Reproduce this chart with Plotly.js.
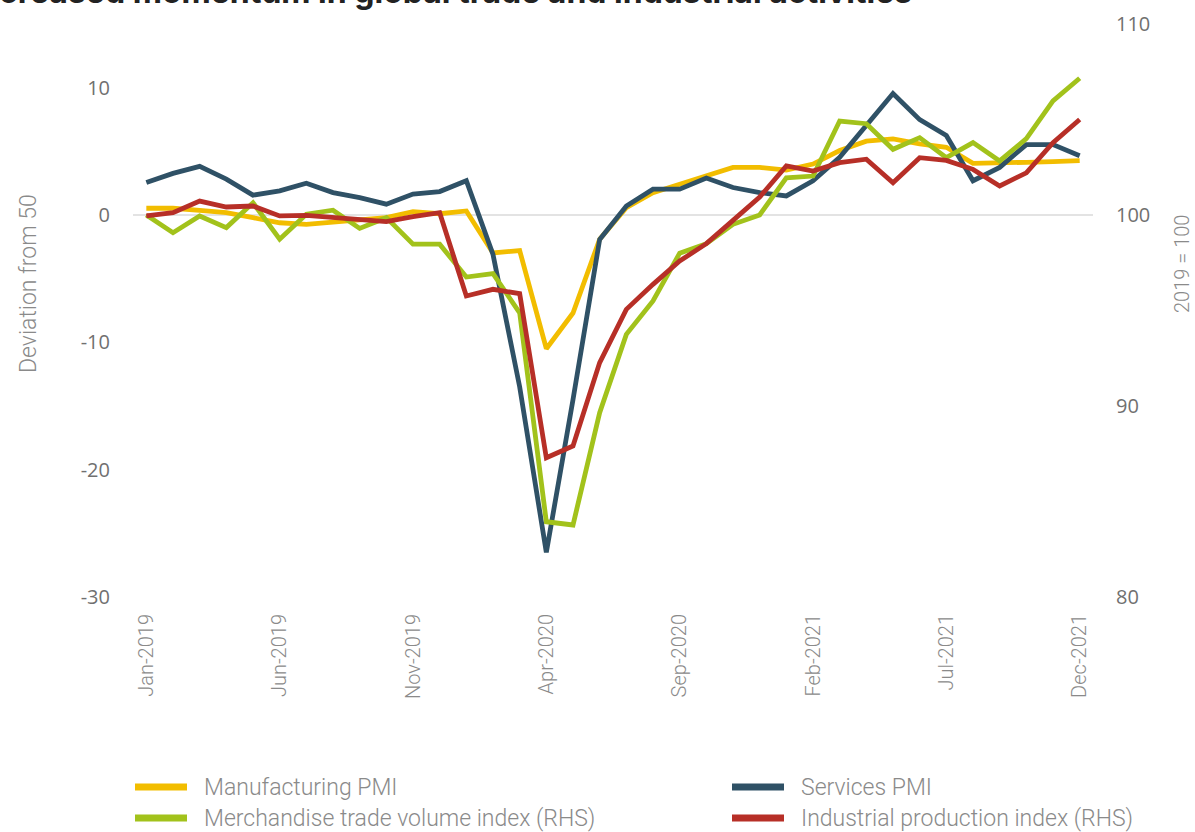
<!DOCTYPE html>
<html>
<head>
<meta charset="utf-8">
<script src="https://cdn.plot.ly/plotly-3.0.1.min.js"></script>
<style>
html,body{margin:0;padding:0;background:#fff;}
#chart{width:1195px;height:832px;}
</style>
</head>
<body>
<div id="chart"></div>
<script>
const months = ["Jan-2019","Feb-2019","Mar-2019","Apr-2019","May-2019","Jun-2019","Jul-2019","Aug-2019","Sep-2019","Oct-2019","Nov-2019","Dec-2019",
"Jan-2020","Feb-2020","Mar-2020","Apr-2020","May-2020","Jun-2020","Jul-2020","Aug-2020","Sep-2020","Oct-2020","Nov-2020","Dec-2020",
"Jan-2021","Feb-2021","Mar-2021","Apr-2021","May-2021","Jun-2021","Jul-2021","Aug-2021","Sep-2021","Oct-2021","Nov-2021","Dec-2021"];

const tickLabels = ["Jan-2019","Jun-2019","Nov-2019","Apr-2020","Sep-2020","Feb-2021","Jul-2021","Dec-2021"];
const leftTickVals = [-30,-20,-10,0,10];
const leftTickText = ["-30","-20","-10","0","10"];
const rightTickVals = [80,90,100,110];

const manufacturingPMI = [0.53,0.53,0.37,0.18,-0.21,-0.61,-0.74,-0.55,-0.34,-0.21,0.26,0.10,
0.32,-2.98,-2.79,-10.5,-7.7,-1.9,0.58,1.76,2.42,3.08,3.74,3.74,
3.53,4.0,5.06,5.8,5.98,5.59,5.32,4.06,4.06,4.14,4.19,4.27];

const servicesPMI = [2.55,3.27,3.82,2.82,1.56,1.9,2.5,1.76,1.37,0.85,1.64,1.84,
2.69,-3.1,-13.5,-26.5,-14.5,-1.92,0.71,2.03,2.03,2.9,2.16,1.76,
1.5,2.69,4.53,7.04,9.54,7.49,6.25,2.69,3.74,5.53,5.53,4.66];

const merchandiseTrade = [100.0,99.07,99.95,99.34,100.64,98.73,100.04,100.25,99.3,99.86,98.47,98.47,
96.75,96.93,94.88,83.94,83.77,89.65,93.75,95.5,98.0,98.5,99.51,100.0,
101.95,102.04,104.92,104.78,103.44,104.05,103.0,103.79,102.83,104.0,105.97,107.16];

const industrialProduction = [99.95,100.12,100.73,100.42,100.47,99.95,99.98,99.86,99.72,99.65,99.91,100.12,
95.76,96.11,95.88,87.29,87.91,92.27,95.06,96.37,97.59,98.5,99.72,100.94,
102.57,102.3,102.74,102.92,101.69,103.0,102.86,102.39,101.52,102.21,103.79,105.0];

const seriesNames = ["Manufacturing PMI","Services PMI","Merchandise trade volume index (RHS)","Industrial production index (RHS)"];
const colors = ["#F2BD00","#2F5166","#A2C21B","#B72F27"];

const lw = 4.8;
const traces = [
  {x: months, y: manufacturingPMI, name: seriesNames[0], yaxis: "y", line:{color:colors[0], width:lw}},
  {x: months, y: servicesPMI, name: seriesNames[1], yaxis: "y", line:{color:colors[1], width:lw}},
  {x: months, y: merchandiseTrade, name: seriesNames[2], yaxis: "y2", line:{color:colors[2], width:lw}},
  {x: months, y: industrialProduction, name: seriesNames[3], yaxis: "y2", line:{color:colors[3], width:lw}}
].map(t => Object.assign({type:"scatter", mode:"lines", hoverinfo:"x+y+name", showlegend:false}, t));

// plot area in pixels (for layout-only placement of legend / titles)
const PL = 133, PR = 1093, PT = 24, PB = 597;
const px = v => (v - PL) / (PR - PL);
const py = v => (PB - v) / (PB - PT);

const tickFont = {family:"Open Sans, sans-serif", size:20, color:"#707070"};
const lightFont = {family:"Roboto, sans-serif", size:23, color:"#8a8a8a", weight:300};

// custom legend: 2 columns x 2 rows
const legendPos = [
  {sx:133, tx:202, y:787},
  {sx:730, tx:799, y:787},
  {sx:133, tx:202, y:818},
  {sx:730, tx:799, y:818}
];
const shapes = [];
const annotations = [];
seriesNames.forEach((n, i) => {
  const p = legendPos[i];
  shapes.push({type:"line", xref:"paper", yref:"paper", x0:px(p.sx+2), x1:px(p.sx+54), y0:py(p.y), y1:py(p.y),
    line:{color:colors[i], width:7}, layer:"above"});
  annotations.push({text:n, xref:"paper", yref:"paper", x:px(p.tx), y:py(p.y), xanchor:"left", yanchor:"middle",
    showarrow:false, font:{family:"Roboto, sans-serif", size:23, color:"#8a8a8a", weight:300}});
});
annotations.push(
  {text:"Increased momentum in global trade and industrial activities", xref:"paper", yref:"paper",
   x:px(914), y:1+11/573, xanchor:"right", yanchor:"bottom", showarrow:false,
   font:{family:"Inter, sans-serif", size:32, color:"#222", weight:700}},
  {text:"Deviation from 50", xref:"paper", yref:"paper", x:px(28), y:py(284), xanchor:"center", yanchor:"middle",
   textangle:-90, showarrow:false, font:lightFont},
  {text:"2019 = 100", xref:"paper", yref:"paper", x:px(1182), y:py(264), xanchor:"center", yanchor:"middle",
   textangle:-90, showarrow:false, font:{family:"Roboto, sans-serif", size:20, color:"#8a8a8a", weight:300}}
);

const layout = {
  width:1195, height:832,
  margin:{l:PL, r:1195-PR, t:PT, b:832-PB, pad:0, autoexpand:false},
  paper_bgcolor:"#fff", plot_bgcolor:"#fff",
  showlegend:false,
  xaxis:{type:"category", range:[-0.5,35.5], tickmode:"array", tickvals:tickLabels, ticktext:tickLabels,
    tickangle:-90, showgrid:false, zeroline:false, showline:false, ticks:"", automargin:false,
    tickfont:{family:"Roboto, sans-serif", size:20, color:"#8a8a8a", weight:300}, ticklabelstandoff:12, fixedrange:true},
  yaxis:{range:[-30,15], tickmode:"array", tickvals:leftTickVals, ticktext:leftTickText, showgrid:false, zeroline:true,
    zerolinecolor:"#e3e3e3", zerolinewidth:2, automargin:false,
    showline:false, ticks:"", tickfont:tickFont, ticklabelstandoff:22, fixedrange:true},
  yaxis2:{range:[80,110], tickmode:"array", tickvals:rightTickVals, overlaying:"y", side:"right", showgrid:false, zeroline:false,
    showline:false, ticks:"", tickfont:tickFont, ticklabelstandoff:22, automargin:false, fixedrange:true},
  shapes: shapes,
  annotations: annotations
};

Plotly.newPlot("chart", traces, layout, {displayModeBar:false});
</script>
</body>
</html>
